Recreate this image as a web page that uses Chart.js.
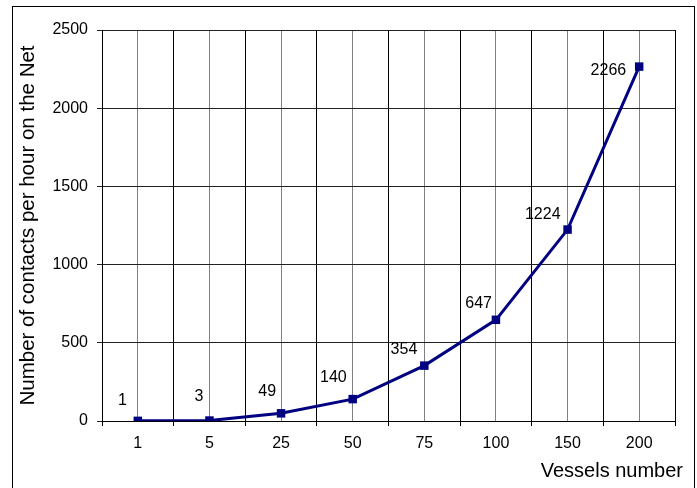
<!DOCTYPE html>
<html>
<head>
<meta charset="utf-8">
<script src="https://cdn.jsdelivr.net/npm/chart.js@4/dist/chart.umd.min.js"></script>
<style>
    html, body { margin: 0; padding: 0; background: #fff; overflow: hidden; }
    #wrap { position: relative; width: 697px; height: 488px; }
    #frame { position: absolute; left: 12px; top: 6px; width: 681px; height: 500px; border: 1px solid #000; pointer-events: none; }
    canvas { position: absolute; left: 0; top: 0; }
</style>
</head>
<body>
<div id="wrap">
    <canvas id="contactsChart" width="697" height="488"></canvas>
    <div id="frame"></div>
</div>
<script>
// Chart data
const vessels = ['1', '5', '25', '50', '75', '100', '150', '200'];
const contacts = [1, 3, 49, 140, 354, 647, 1224, 2266];
const yTicks = [0, 500, 1000, 1500, 2000, 2500];

const FONT = 'Arial, "Liberation Sans", sans-serif';

// Value labels drawn up-left of each point
const pointLabels = {
    id: 'pointLabels',
    afterDatasetsDraw(chart, args, opts) {
        const ctx = chart.ctx;
        const meta = chart.getDatasetMeta(0);
        ctx.save();
        ctx.font = '16px ' + FONT;
        ctx.fillStyle = '#000';
        ctx.textAlign = 'right';
        ctx.textBaseline = 'middle';
        meta.data.forEach((pt, i) => {
            const off = opts.offsets[i] || [-7, -18];
            ctx.fillText(String(contacts[i]), pt.x + off[0], pt.y + off[1]);
        });
        ctx.restore();
    }
};

// X axis title sits right-aligned a bit past the plot edge
const xTitle = {
    id: 'xTitle',
    afterDraw(chart, args, opts) {
        const ctx = chart.ctx;
        ctx.save();
        ctx.font = '20px ' + FONT;
        ctx.fillStyle = '#000';
        ctx.textAlign = 'right';
        ctx.textBaseline = 'middle';
        ctx.fillText(opts.text, chart.chartArea.right + 8, chart.chartArea.bottom + 50);
        ctx.restore();
    }
};

const ctx = document.getElementById('contactsChart').getContext('2d');
new Chart(ctx, {
    type: 'line',
    data: {
        labels: vessels,
        datasets: [{
            data: contacts,
            borderColor: '#000080',
            backgroundColor: '#000080',
            borderWidth: 3,
            pointStyle: 'rect',
            pointRadius: 6,
            pointBorderWidth: 0,
            tension: 0,
            fill: false
        }]
    },
    options: {
        responsive: false,
        animation: false,
        layout: {
            padding: { left: 12, top: 30, right: 22, bottom: 0 }
        },
        plugins: {
            legend: { display: false },
            tooltip: { enabled: false },
            pointLabels: {
                offsets: [[-11, -20], [-6, -24], [-5, -22], [-6, -22], [-7, -16], [-4, -16], [-7, -15], [-13, 4]]
            },
            xTitle: { text: 'Vessels number' }
        },
        scales: {
            x: {
                type: 'category',
                offset: true,
                grid: {
                    offset: true,
                    color: '#000',
                    lineWidth: 1,
                    tickLength: 5
                },
                border: { color: '#000', width: 1 },
                ticks: {
                    color: '#000',
                    padding: 8,
                    font: { size: 16, family: FONT }
                },
                afterFit(scale) { scale.height = 67; }
            },
            x2: {
                type: 'category',
                position: 'bottom',
                offset: true,
                grid: {
                    offset: false,
                    color: '#808080',
                    lineWidth: 1,
                    drawTicks: false
                },
                border: { display: false },
                ticks: { display: false },
                afterFit(scale) { scale.height = 0; }
            },
            y: {
                min: 0,
                max: 2500,
                afterBuildTicks(scale) {
                    scale.ticks = yTicks.map(v => ({ value: v }));
                },
                grid: {
                    color: '#222',
                    lineWidth: 1,
                    tickLength: 5
                },
                border: { color: '#000', width: 1 },
                ticks: {
                    color: '#000',
                    padding: 9,
                    font: { size: 16, family: FONT },
                    callback: (value) => String(value)
                },
                title: {
                    display: true,
                    text: 'Number of contacts per hour on the Net',
                    color: '#000',
                    padding: { top: 4, bottom: 0 },
                    font: { size: 20.5, family: FONT }
                },
                afterFit(scale) { scale.width = 90; }
            }
        }
    },
    plugins: [pointLabels, xTitle]
});
</script>
</body>
</html>
